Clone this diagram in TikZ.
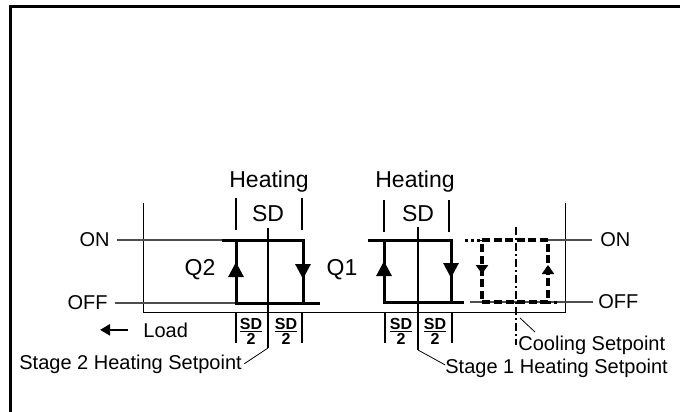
\documentclass[tikz,border=0pt]{standalone}
\usepackage{fontspec}
\setmainfont{Liberation Sans}
\usetikzlibrary{positioning, arrows.meta}
\definecolor{Ink}{HTML}{000000}
\definecolor{Guide}{HTML}{4D4D4D}
\tikzset{
    txtbig/.style={inner sep=0pt, anchor=base, text=Ink, font=\fontsize{11.5}{13}\selectfont},
    txtnode/.style={inner sep=0pt, anchor=base, text=Ink, font=\fontsize{10}{12}\selectfont},
    fracnode/.style={inner sep=0pt, text=Ink, font=\fontsize{8}{9}\selectfont},
    hyst/.style={line width=1.5pt, color=Ink},
    hystdash/.style={line width=1.6pt, color=Ink, dash pattern=on 4pt off 1.8pt},
    hystdot/.style={line width=1.5pt, color=Ink, dash pattern=on 1.5pt off 1.5pt},
    bigtip/.style={-{Triangle[width=7.5pt,length=7.5pt]}},
    smalltip/.style={-{Triangle[width=6pt,length=4.5pt]}},
    axisline/.style={line width=0.5pt, color=Ink},
    guide/.style={line width=0.55pt, color=Guide},
    sdtick/.style={line width=1pt, color=Ink},
    setline/.style={line width=1pt, color=Ink},
    coolline/.style={line width=0.8pt, color=Ink, dash pattern=on 4pt off 1.5pt on 1pt off 1.5pt},
    leader/.style={line width=0.4pt, color=Ink},
}
\begin{document}
\begin{tikzpicture}[x=0.5pt, y=-0.5pt]
    \useasboundingbox (0,0) rectangle (680,412);

    % Cornice
    \draw[line width=1.5pt] (10.7,412) -- (10.7,6.5) -- (680,6.5);

    % Assi
    \draw[axisline] (143,203) -- (143,312) -- (565,312) -- (565,203);

    % Etichette superiori
    \node[txtbig] (heat2) at (269,187) {Heating};
    \node[txtbig] (sd2) at (268,221) {SD};
    \node[txtbig] (heat1) at (415,187) {Heating};
    \node[txtbig] (sd1) at (418,221) {SD};
    \node[txtbig, anchor=center] (q2) at (200,270) {Q2};
    \node[txtbig, anchor=center] (q1) at (342,270) {Q1};

    % ON / OFF
    \node[txtnode, anchor=east] (onL) at (110,240) {ON};
    \node[txtnode, anchor=east] (offL) at (108,303) {OFF};
    \node[txtnode, anchor=west] (onR) at (600,240) {ON};
    \node[txtnode, anchor=west] (offR) at (598,302) {OFF};

    % Punti dei cicli
    \coordinate (s2on) at (222,240);
    \coordinate (s2tl) at (236,240);
    \coordinate (s2tr) at (303,240);
    \coordinate (s2br) at (303,303);
    \coordinate (s2bl) at (236,303);
    \coordinate (s2off) at (320,303);
    \coordinate (s1on) at (368,240);
    \coordinate (s1tl) at (384,240);
    \coordinate (s1tr) at (451,240);
    \coordinate (s1br) at (451,302);
    \coordinate (s1bl) at (384,302);
    \coordinate (s1off) at (464,302);
    \coordinate (ctl) at (482,240);
    \coordinate (ctr) at (548,240);
    \coordinate (cbr) at (548,302);
    \coordinate (cbl) at (482,302);

    % Linee guida
    \draw[guide] ([xshift=3.5pt]onL.east) -- (s2on);
    \draw[guide] ([xshift=3.5pt]offL.east) -- (s2bl);
    \draw[guide] (ctr) -- ([xshift=-4pt]onR.west);
    \draw[guide] (470,302) -- ([xshift=-2.5pt]offR.west);

    % Ciclo stadio 2
    \draw[hyst] (s2on) -- (s2tr) -- (s2br);
    \draw[hyst] (s2tl) -- (s2bl) -- (s2off);
    \draw[hyst, bigtip] (236,278) -- (236,262);
    \draw[hyst, bigtip] (303,263) -- (303,279);

    % Ciclo stadio 1
    \draw[hyst] (s1on) -- (s1tr) -- (s1br);
    \draw[hyst] (s1tl) -- (s1bl) -- (s1off);
    \draw[hyst, bigtip] (384,277) -- (384,261);
    \draw[hyst, bigtip] (451,262) -- (451,278);

    % Ciclo raffreddamento
    \draw[hystdash] (ctl) -- (ctr) -- (cbr) -- (cbl) -- cycle;
    \draw[hystdot] (465,240) -- (ctl);
    \draw[hystdot] (cbr) -- (560,302);
    \draw[hyst, smalltip] (482,265) -- (482,274);
    \draw[hyst, smalltip] (548,275) -- (548,265);

    % Tacche SD
    \draw[sdtick] (236,198) -- (236,230);
    \draw[sdtick] (302,198) -- (302,230);
    \draw[sdtick] (384,200) -- (384,232);
    \draw[sdtick] (449,200) -- (449,232);
    \draw[sdtick] (236,313) -- (236,343);
    \draw[sdtick] (302,313) -- (302,343);
    \draw[sdtick] (385,313) -- (385,343);
    \draw[sdtick] (452,313) -- (452,343);

    % Setpoint
    \coordinate (sp2low) at (268,348);
    \coordinate (sp1low) at (418,350);
    \coordinate (cplow) at (520,318);
    \draw[setline] (268,228) -- (sp2low);
    \draw[setline] (418,227) -- (sp1low);
    \draw[coolline] (516,227) -- (516,345);

    % SD/2
    \foreach \xf in {251,286,401,435}
        \node[fracnode] (fr\xf) at (\xf,331) {$\frac{\textbf{SD}}{\textbf{2}}$};

    % Testi inferiori
    \node[txtnode, anchor=base west] (load) at (143,337) {Load};
    \node[txtnode, anchor=base west] (st2) at (19,369) {Stage 2 Heating Setpoint};
    \node[txtnode, anchor=base west] (st1) at (445,373) {Stage 1 Heating Setpoint};
    \node[txtnode, anchor=base west] (cool) at (518,350) {Cooling Setpoint};
    \coordinate (cpend) at (535,332);

    \draw[line width=1.2pt, -{Triangle[width=5.5pt,length=5pt]}] ([xshift=-7.5pt]load.west) -- ([xshift=-21.5pt]load.west);
    \draw[leader] ([xshift=1pt]st2.east) -- (sp2low);
    \draw[leader] (sp1low) -- ([yshift=1.5pt]st1.west);
    \draw[leader] (cplow) -- (cpend);
\end{tikzpicture}
\end{document}
